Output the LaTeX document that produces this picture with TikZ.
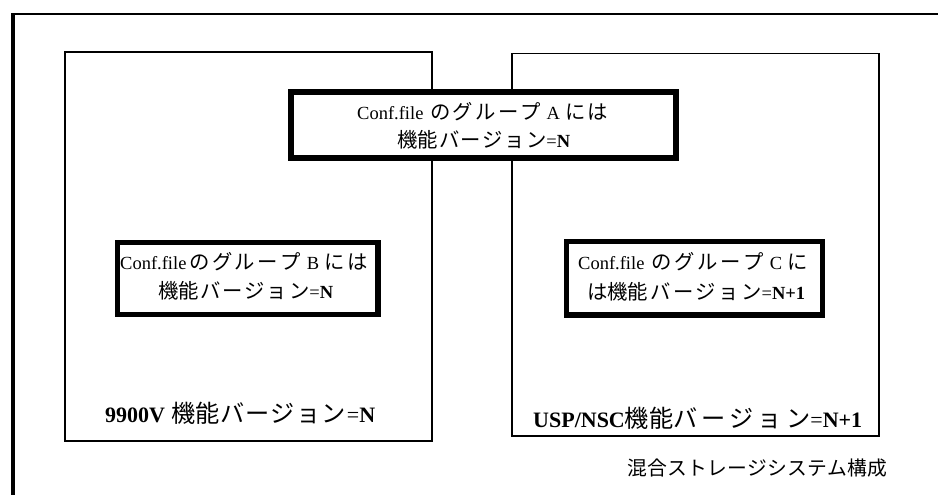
\documentclass[tikz,border=0pt]{standalone}
\usepackage{fontspec}
\setmainfont{Liberation Serif}
\newfontfamily\jp[Scale=1.1]{Noto Sans CJK JP}
\newcommand\J[1]{{\jp #1}}
\newcommand\Bf[1]{\textbf{#1}}
\newcommand\G{\hspace{0pt plus 1fil}}
\tikzset{
  groupbox/.style={draw=black, line width=5.5pt, fill=white, inner sep=0pt},
  unitbox/.style={draw=black, line width=1.8pt, inner sep=0pt},
  txt/.style={anchor=west, inner sep=0pt, font=\fontsize{18.5}{21}\selectfont},
  bigtxt/.style={anchor=west, inner sep=0pt, font=\fontsize{22}{25}\selectfont},
  captxt/.style={anchor=west, inner sep=0pt, font=\fontsize{18}{21}\selectfont},
}
\begin{document}
\begin{tikzpicture}[x=1pt,y=-1pt]
\useasboundingbox (0,0) rectangle (938,495);
% outer frame (open at right and bottom)
\coordinate (fb) at (12.5,497);
\coordinate (fc) at (12.5,15);
\coordinate (fl) at (11,14);
\coordinate (fr) at (940,14);
\draw[line width=4pt] (fb) -- (fc);
\draw[line width=2.5pt] (fl) -- (fr);
% storage units
\node[unitbox, minimum width=367pt, minimum height=389pt] (left) at (248.5,246.5) {};
\node[unitbox, minimum width=367pt, minimum height=382.5pt] (right) at (695.5,244.75) {};
% group boxes
\node[groupbox, minimum width=385pt, minimum height=66pt] (ga) at (483.5,125) {};
\node[groupbox, minimum width=260.5pt, minimum height=72pt] (gb) at (247.75,278.5) {};
\node[groupbox, minimum width=256pt, minimum height=73.5pt] (gc) at (694.5,278.25) {};
% texts
\node[txt] (a1) at (357,112) {\makebox[251pt][s]{Conf.file\ \G\J{の}\G\J{グ}\G\J{ル}\G\J{ー}\G\J{プ}\G\,A\,\G\J{に}\G\J{は}}};
\node[txt] (a2) at (397,140) {\makebox[173pt][s]{\J{機能}\G\J{バ}\G\J{ー}\G\J{ジ}\G\J{ョ}\G\J{ン}=\Bf{N}}};
\node[txt] (b1) at (120,262) {\makebox[248pt][s]{Conf.file\G\J{の}\G\J{グ}\G\J{ル}\G\J{ー}\G\J{プ}\G\,B\,\G\J{に}\G\J{は}}};
\node[txt] (b2) at (158,291) {\makebox[175pt][s]{\J{機能}\G\J{バ}\G\J{ー}\G\J{ジ}\G\J{ョ}\G\J{ン}=\Bf{N}}};
\node[txt] (c1) at (578,262) {\makebox[230pt][s]{Conf.file\ \G\J{の}\G\J{グ}\G\J{ル}\G\J{ー}\G\J{プ}\G\,C\,\G\J{に}}};
\node[txt] (c2) at (587,292) {\makebox[218pt][s]{\J{は機能}\G\J{バ}\G\J{ー}\G\J{ジ}\G\J{ョ}\G\J{ン}=\Bf{N+1}}};
\node[bigtxt] (lv) at (105,413) {\makebox[270pt][s]{\Bf{9900V}\ \G\J{機能バ}\G\J{ー}\G\J{ジ}\G\J{ョ}\G\J{ン}\G=\Bf{N}}};
\node[bigtxt] (rv) at (533,418) {\makebox[329pt][s]{\Bf{USP/NSC}\J{機能バ}\G\J{ー}\G\J{ジ}\G\J{ョ}\G\J{ン}=\Bf{N+1}}};
\node[captxt] (cap) at (627,468) {\makebox[260pt][s]{\J{混}\G\J{合}\G\J{ス}\G\J{ト}\G\J{レ}\G\J{ー}\G\J{ジ}\G\J{シ}\G\J{ス}\G\J{テ}\G\J{ム}\G\J{構}\G\J{成}}};
\end{tikzpicture}
\end{document}
